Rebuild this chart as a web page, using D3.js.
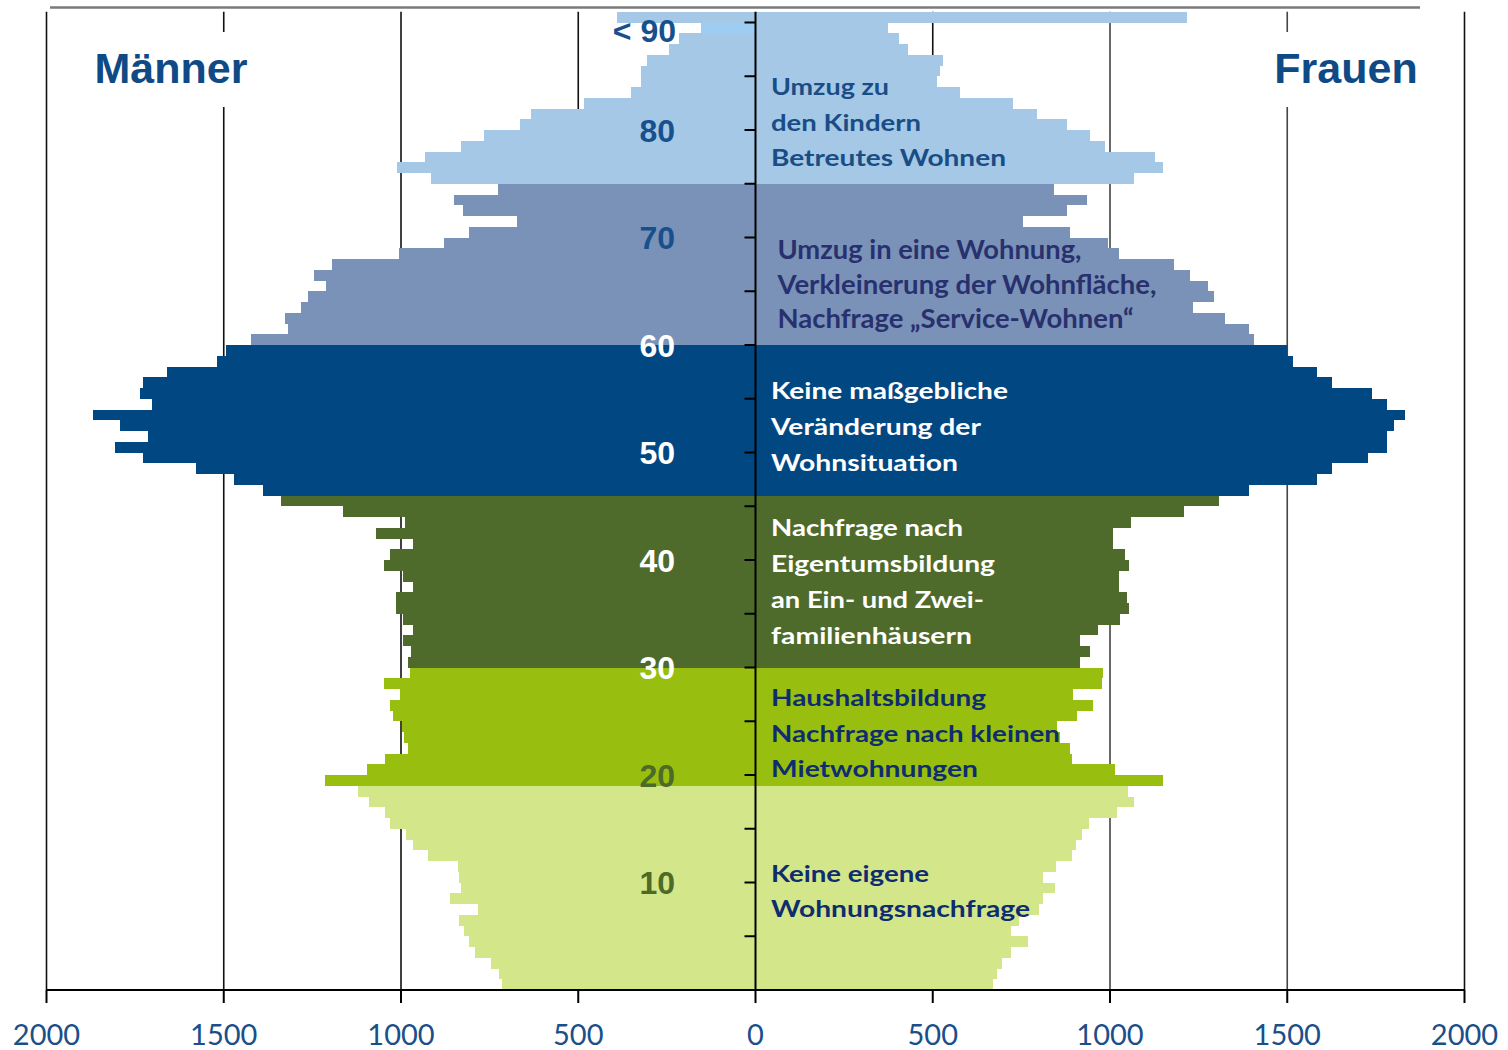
<!DOCTYPE html>
<html>
<head>
<meta charset="utf-8">
<script src="https://cdn.jsdelivr.net/npm/d3@7"></script>
<style>
  html, body { margin: 0; padding: 0; background: #ffffff; }
  svg { display: block; }
</style>
</head>
<body>
<svg id="chart" width="1508" height="1050"></svg>
<script>
// Population by single year of age, 0 … 90 (last entry: 90 and older)
const ages = d3.range(0, 91);
const men = [
  716, 724, 747, 790, 808, 822, 837, 784, 862, 831,
  837, 840, 923, 966, 986, 1031, 1045, 1090, 1121, 1213,
  1095, 1044, 981, 991, 997, 1022, 1031, 1003, 1047, 975,
  980, 972, 995, 966, 995, 1013, 1013, 966, 995, 1047,
  1031, 966, 1071, 989, 1163, 1339, 1388, 1470, 1577, 1729,
  1807, 1714, 1792, 1869, 1701, 1735, 1729, 1661, 1518, 1493,
  1422, 1319, 1327, 1281, 1261, 1211, 1245, 1194, 1006, 878,
  808, 672, 824, 850, 725, 914, 1012, 933, 831, 766,
  664, 632, 484, 352, 323, 323, 307, 243, 216, 154,
  390
];
const women = [
  671, 680, 696, 721, 768, 721, 744, 801, 810, 845,
  810, 847, 894, 903, 920, 942, 1019, 1069, 1050, 1150,
  1014, 892, 887, 860, 850, 908, 951, 895, 977, 981,
  916, 944, 916, 967, 1027, 1055, 1047, 1024, 1024, 1055,
  1043, 1008, 1008, 1059, 1210, 1308, 1392, 1584, 1625, 1727,
  1782, 1782, 1800, 1833, 1782, 1739, 1625, 1585, 1517, 1500,
  1405, 1393, 1325, 1233, 1292, 1276, 1226, 1181, 1024, 994,
  887, 754, 878, 934, 843, 1069, 1149, 1127, 986, 944,
  878, 793, 727, 577, 513, 521, 528, 431, 405, 373,
  1218
];

// First age of each life-phase group
const groupStart = [0, 19, 30, 46, 60, 75];

// Housing-demand notes per group
const notes = [
  ["Keine eigene", "Wohnungsnachfrage"],
  ["Haushaltsbildung", "Nachfrage nach kleinen", "Mietwohnungen"],
  ["Nachfrage nach", "Eigentumsbildung", "an Ein- und Zwei-", "familienhäusern"],
  ["Keine maßgebliche", "Veränderung der", "Wohnsituation"],
  ["Umzug in eine Wohnung,", "Verkleinerung der Wohnfläche,", "Nachfrage „Service-Wohnen“"],
  ["Umzug zu", "den Kindern", "Betreutes Wohnen"]
];

const xTicks = [-2000, -1500, -1000, -500, 0, 500, 1000, 1500, 2000];
const ageTicks = [10, 20, 30, 40, 50, 60, 70, 80];
const topAgeLabel = "< 90";
const sideLabels = ["Männer", "Frauen"];

// ---------- styling ----------
const groupFill = ["#d3e68a", "#98bf0f", "#4f6b2b", "#014782", "#7a92b7", "#a4c8e5"];
const noteColor = ["#0e2d6e", "#0e2d6e", "#ffffff", "#ffffff", "#28306e", "#1a4d86"];
const noteFont = [23, 23, 23, 23, 26, 23];
const noteBase = [882, 706, 536, 399, 259, 95];
const noteStep = [35, 35.5, 36, 36, 34.7, 35.5];
const noteX = [771, 771, 771, 771, 777.5, 771];
const noteWidth = [
  [158, 259],
  [215, 289, 207],
  [192, 224, 213, 201],
  [237, 210, 187],
  [304, 379, 356],
  [118, 150, 235]
];

const svg = d3.select("#chart");

const x = d3.scaleLinear().domain([-2000, 2000]).range([46.5, 1464.5]);
const y = d3.scaleLinear().domain([0, 91]).range([990, 11.75]);

const groupOf = a => d3.bisectRight(groupStart, a) - 1;

// white background
svg.append("rect").attr("width", 1508).attr("height", 1050).attr("fill", "#ffffff");

// top border
svg.append("line")
  .attr("x1", 50).attr("x2", 1420).attr("y1", 7.5).attr("y2", 7.5)
  .attr("stroke", "#7a7a7a").attr("stroke-width", 2.5);

// vertical grid lines
svg.append("g").selectAll("line")
  .data(xTicks.filter(v => v !== 0))
  .join("line")
  .attr("x1", d => x(d)).attr("x2", d => x(d))
  .attr("y1", y(91)).attr("y2", y(0))
  .attr("stroke", d => (d === 1000 || d === 1500) ? "#444" : "#111")
  .attr("stroke-width", 1.6);

// bars
const rows = ages.map(a => ({ age: a, m: men[a], w: women[a], g: groupOf(a) }));
const bars = svg.append("g").attr("shape-rendering", "crispEdges");

bars.selectAll("rect.m")
  .data(rows)
  .join("rect")
  .attr("class", "m")
  .attr("x", d => x(-d.m))
  .attr("width", d => x(0) - x(-d.m))
  .attr("y", d => y(d.age + 1))
  .attr("height", d => y(d.age) - y(d.age + 1))
  .attr("fill", d => d.age === 89 ? "#9ecdf4" : groupFill[d.g]);

bars.selectAll("rect.w")
  .data(rows)
  .join("rect")
  .attr("class", "w")
  .attr("x", x(0))
  .attr("width", d => x(d.w) - x(0))
  .attr("y", d => y(d.age + 1))
  .attr("height", d => y(d.age) - y(d.age + 1))
  .attr("fill", d => groupFill[d.g]);

// central age axis with ticks every five years
svg.append("line")
  .attr("x1", x(0)).attr("x2", x(0))
  .attr("y1", y(91)).attr("y2", y(0))
  .attr("stroke", "#000").attr("stroke-width", 2);

svg.append("g").selectAll("line")
  .data(d3.range(5, 91, 5))
  .join("line")
  .attr("x1", x(0) - 11).attr("x2", x(0))
  .attr("y1", d => y(d)).attr("y2", d => y(d))
  .attr("stroke", "#000").attr("stroke-width", 2);

// age labels
const ageColor = a => a <= 20 ? "#4c6a28" : (a <= 60 ? "#ffffff" : "#17508e");
svg.append("g").selectAll("text")
  .data(ageTicks)
  .join("text")
  .attr("x", 675)
  .attr("y", d => y(d) + 11.5)
  .attr("text-anchor", "end")
  .attr("font-family", "'Liberation Sans', Arial, sans-serif")
  .attr("font-weight", "bold")
  .attr("font-size", 32)
  .attr("fill", d => ageColor(d))
  .text(d => d);

svg.append("text")
  .attr("x", 676)
  .attr("y", y(90) + 19.5)
  .attr("text-anchor", "end")
  .attr("font-family", "'Liberation Sans', Arial, sans-serif")
  .attr("font-weight", "bold")
  .attr("font-size", 32)
  .attr("fill", "#17508e")
  .text(topAgeLabel);

// housing-demand notes
notes.forEach((lines, g) => {
  svg.append("g").selectAll("text")
    .data(lines)
    .join("text")
    .attr("x", noteX[g])
    .attr("y", (d, i) => noteBase[g] + i * noteStep[g])
    .attr("font-family", "Lato, 'Open Sans', sans-serif")
    .attr("font-weight", "bold")
    .attr("font-size", noteFont[g])
    .attr("fill", noteColor[g])
    .attr("textLength", (d, i) => noteWidth[g][i])
    .attr("lengthAdjust", "spacingAndGlyphs")
    .text(d => d);
});

// bottom value axis
const axis = svg.append("g");
axis.append("line")
  .attr("x1", x(-2000)).attr("x2", x(2000))
  .attr("y1", y(0)).attr("y2", y(0))
  .attr("stroke", "#000").attr("stroke-width", 2);
axis.selectAll("line.t")
  .data(xTicks)
  .join("line")
  .attr("class", "t")
  .attr("x1", d => x(d)).attr("x2", d => x(d))
  .attr("y1", y(0)).attr("y2", y(0) + 13)
  .attr("stroke", "#000").attr("stroke-width", 2);
axis.selectAll("text")
  .data(xTicks)
  .join("text")
  .attr("x", d => x(d))
  .attr("y", 1045)
  .attr("text-anchor", "middle")
  .attr("font-family", "Lato, 'Open Sans', sans-serif")
  .attr("font-size", 29)
  .attr("fill", "#1a4f8a")
  .text(d => Math.abs(d));

// side titles on white panels
const sideX = [171, 1346];
sideLabels.forEach((t, i) => {
  svg.append("rect")
    .attr("x", sideX[i] - 85).attr("y", 32)
    .attr("width", 170).attr("height", 75)
    .attr("fill", "#ffffff");
  svg.append("text")
    .attr("x", sideX[i]).attr("y", 83)
    .attr("text-anchor", "middle")
    .attr("font-family", "'Liberation Sans', Arial, sans-serif")
    .attr("font-weight", "bold")
    .attr("font-size", 43)
    .attr("fill", "#0e4a85")
    .text(t);
});
</script>
</body>
</html>
